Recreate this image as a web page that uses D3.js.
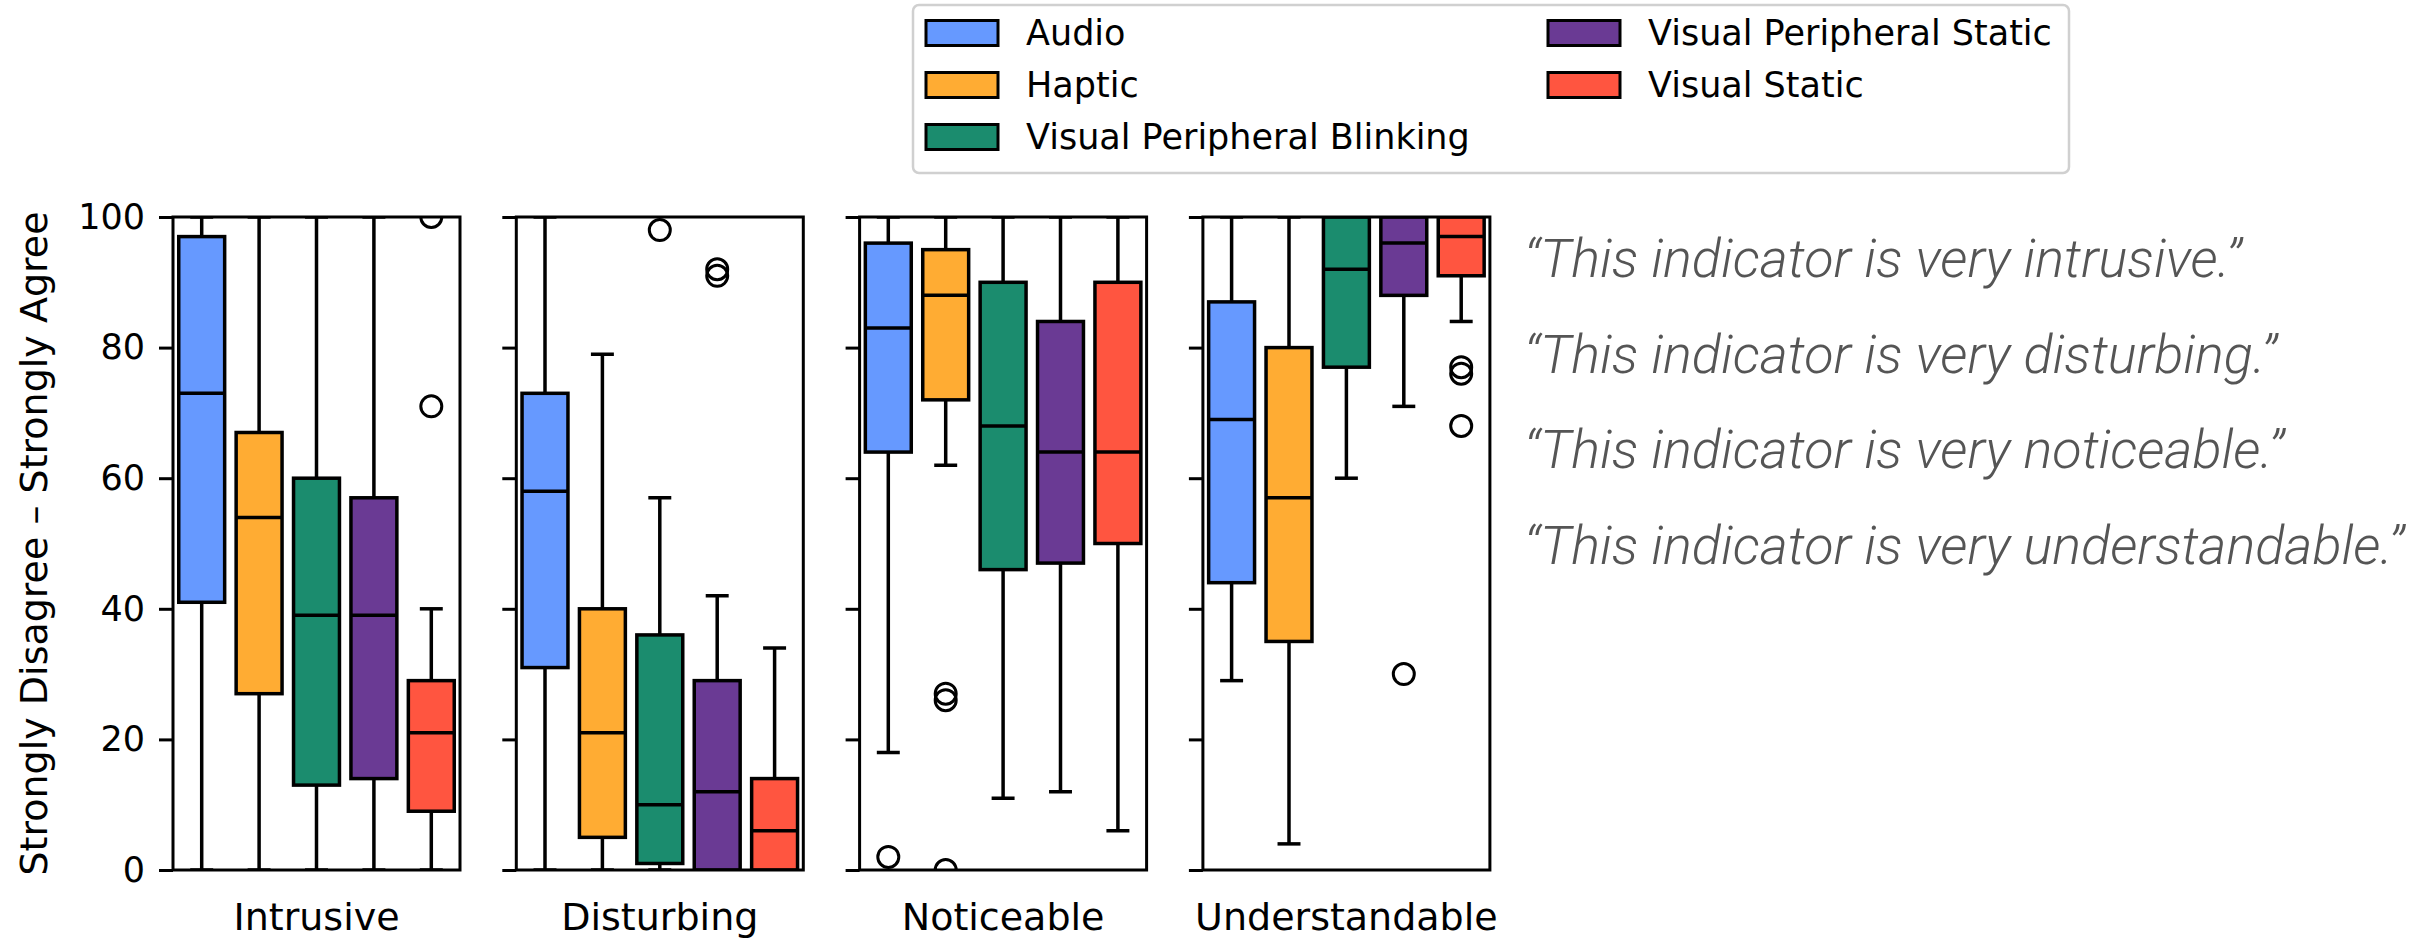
<!DOCTYPE html>
<html>
<head>
<meta charset="utf-8">
<script src="https://cdn.jsdelivr.net/npm/d3@7"></script>
<style>
  body { margin: 0; background: #fff; }
  svg { display: block; }
  text { font-family: "DejaVu Sans", sans-serif; }
  text.statement { font-family: Roboto, sans-serif; font-style: italic; font-weight: 300; }
</style>
</head>
<body>
<svg width="2427" height="938"></svg>
<script>
const panels = ["Intrusive", "Disturbing", "Noticeable", "Understandable"];
const indicators = ["Audio", "Haptic", "Visual Peripheral Blinking", "Visual Peripheral Static", "Visual Static"];
const colors = ["#6699ff", "#ffac33", "#1b8c6e", "#6a3a94", "#ff5540"];
const statements = [
  "\u201cThis indicator is very intrusive.\u201d",
  "\u201cThis indicator is very disturbing.\u201d",
  "\u201cThis indicator is very noticeable.\u201d",
  "\u201cThis indicator is very understandable.\u201d"
];
const yTicks = [0, 20, 40, 60, 80, 100];

// one row per panel, one value per indicator
const whiskerLow = [
  [0, 0, 0, 0, 0],
  [0, 0, 0, 0, 0],
  [18, 62, 11, 12, 6],
  [29, 4, 60, 71, 84]
];
const q1 = [
  [41, 27, 13, 14, 9],
  [31, 5, 1, 0, 0],
  [64, 72, 46, 47, 50],
  [44, 35, 77, 88, 91]
];
const medians = [
  [73, 54, 39, 39, 21],
  [58, 21, 10, 12, 6],
  [83, 88, 68, 64, 64],
  [69, 57, 92, 96, 97]
];
const q3 = [
  [97, 67, 60, 57, 29],
  [73, 40, 36, 29, 14],
  [96, 95, 90, 84, 90],
  [87, 80, 100, 100, 100]
];
const whiskerHigh = [
  [100, 100, 100, 100, 40],
  [100, 79, 57, 42, 34],
  [100, 100, 100, 100, 100],
  [100, 100, 100, 100, 100]
];
const outliers = [
  [[], [], [], [], [100, 71]],
  [[], [], [98], [92, 91], []],
  [[2], [27, 26, 0], [], [], []],
  [[], [], [], [30], [77, 76, 68]]
];

const svg = d3.select("svg");
const layout = { top: 217, bottom: 870, firstLeft: 173, panelWidth: 287, panelStep: 343.3 };
const lw = 3.5;

const y = d3.scaleLinear().domain([0, 100]).range([layout.bottom, layout.top]);

panels.forEach((panelName, p) => {
  const left = layout.firstLeft + p * layout.panelStep;
  const right = left + layout.panelWidth;
  const x = d3.scaleBand().domain(indicators).range([left, right]).paddingInner(0.2).paddingOuter(0.1);
  const bw = x.bandwidth();

  const g = svg.append("g").attr("class", "panel");
  g.append("clipPath").attr("id", "clip" + p)
    .append("rect")
    .attr("x", left).attr("y", layout.top)
    .attr("width", layout.panelWidth).attr("height", layout.bottom - layout.top);

  const plot = g.append("g").attr("clip-path", `url(#clip${p})`);

  const rows = indicators.map((name, i) => ({
    name,
    color: colors[i],
    lo: whiskerLow[p][i],
    q1: q1[p][i],
    med: medians[p][i],
    q3: q3[p][i],
    hi: whiskerHigh[p][i],
    fliers: outliers[p][i]
  }));

  const box = plot.selectAll(".box").data(rows).join("g").attr("class", "box");
  const cx = (d) => x(d.name) + bw / 2;

  // whiskers
  box.append("line")
    .attr("x1", cx).attr("x2", cx)
    .attr("y1", (d) => y(d.q1)).attr("y2", (d) => y(d.lo))
    .attr("stroke", "#000").attr("stroke-width", lw);
  box.append("line")
    .attr("x1", cx).attr("x2", cx)
    .attr("y1", (d) => y(d.q3)).attr("y2", (d) => y(d.hi))
    .attr("stroke", "#000").attr("stroke-width", lw);
  // caps
  [(d) => d.lo, (d) => d.hi].forEach((acc) => {
    box.append("line")
      .attr("x1", (d) => cx(d) - bw / 4).attr("x2", (d) => cx(d) + bw / 4)
      .attr("y1", (d) => y(acc(d))).attr("y2", (d) => y(acc(d)))
      .attr("stroke", "#000").attr("stroke-width", lw);
  });

  box.append("rect")
    .attr("x", (d) => x(d.name))
    .attr("width", bw)
    .attr("y", (d) => y(d.q3))
    .attr("height", (d) => y(d.q1) - y(d.q3))
    .attr("fill", (d) => d.color)
    .attr("stroke", "#000")
    .attr("stroke-width", lw);

  box.append("line")
    .attr("x1", (d) => x(d.name)).attr("x2", (d) => x(d.name) + bw)
    .attr("y1", (d) => y(d.med)).attr("y2", (d) => y(d.med))
    .attr("stroke", "#000").attr("stroke-width", lw);

  box.selectAll("circle")
    .data((d) => d.fliers.map((v) => ({ v, cx: cx(d) })))
    .join("circle")
    .attr("cx", (d) => d.cx)
    .attr("cy", (d) => y(d.v))
    .attr("r", 10.5)
    .attr("fill", "none")
    .attr("stroke", "#000")
    .attr("stroke-width", 3);

  // left axis
  const axis = d3.axisLeft(y).tickValues(yTicks).tickSize(14).tickPadding(14)
    .tickFormat(p === 0 ? d3.format("d") : () => "");
  const axisG = g.append("g").attr("transform", `translate(${left},0)`).call(axis);
  axisG.select(".domain").remove();
  axisG.selectAll(".tick line").attr("stroke", "#000").attr("stroke-width", 3);
  axisG.selectAll(".tick text")
    .attr("font-size", 35)
    .attr("fill", "#000");

  // frame
  g.append("rect")
    .attr("x", left).attr("y", layout.top)
    .attr("width", layout.panelWidth).attr("height", layout.bottom - layout.top)
    .attr("fill", "none").attr("stroke", "#000").attr("stroke-width", 3);

  g.append("text")
    .attr("x", (left + right) / 2)
    .attr("y", 930)
    .attr("text-anchor", "middle")
    .attr("font-size", 38)
    .text(panelName);
});

svg.append("text")
  .attr("transform", `translate(47,${(layout.top + layout.bottom) / 2}) rotate(-90)`)
  .attr("text-anchor", "middle")
  .attr("font-size", 38)
  .text("Strongly Disagree \u2013 Strongly Agree");

// statements on the right
svg.append("g").selectAll("text")
  .data(statements)
  .join("text")
  .attr("class", "statement")
  .attr("x", 1524)
  .attr("y", (d, i) => 277 + i * 95.5)
  .attr("font-size", 54)
  .attr("fill", "#555")
  .text((d) => d);

// legend
const legend = svg.append("g");
legend.append("rect")
  .attr("x", 913).attr("y", 5).attr("width", 1156).attr("height", 168)
  .attr("rx", 6)
  .attr("fill", "#fff").attr("stroke", "#d0d0d0").attr("stroke-width", 2.5);

const legendPos = [[0, 0], [0, 1], [0, 2], [1, 0], [1, 1]];
const items = legend.selectAll(".item")
  .data(indicators)
  .join("g")
  .attr("class", "item")
  .attr("transform", (d, i) => `translate(${926 + legendPos[i][0] * 622},${33 + legendPos[i][1] * 52})`);
items.append("rect")
  .attr("x", 0).attr("y", -12.5).attr("width", 72).attr("height", 25)
  .attr("fill", (d, i) => colors[i])
  .attr("stroke", "#000").attr("stroke-width", 3);
items.append("text")
  .attr("x", 100).attr("y", 12)
  .attr("font-size", 35)
  .text((d) => d);
</script>
</body>
</html>
